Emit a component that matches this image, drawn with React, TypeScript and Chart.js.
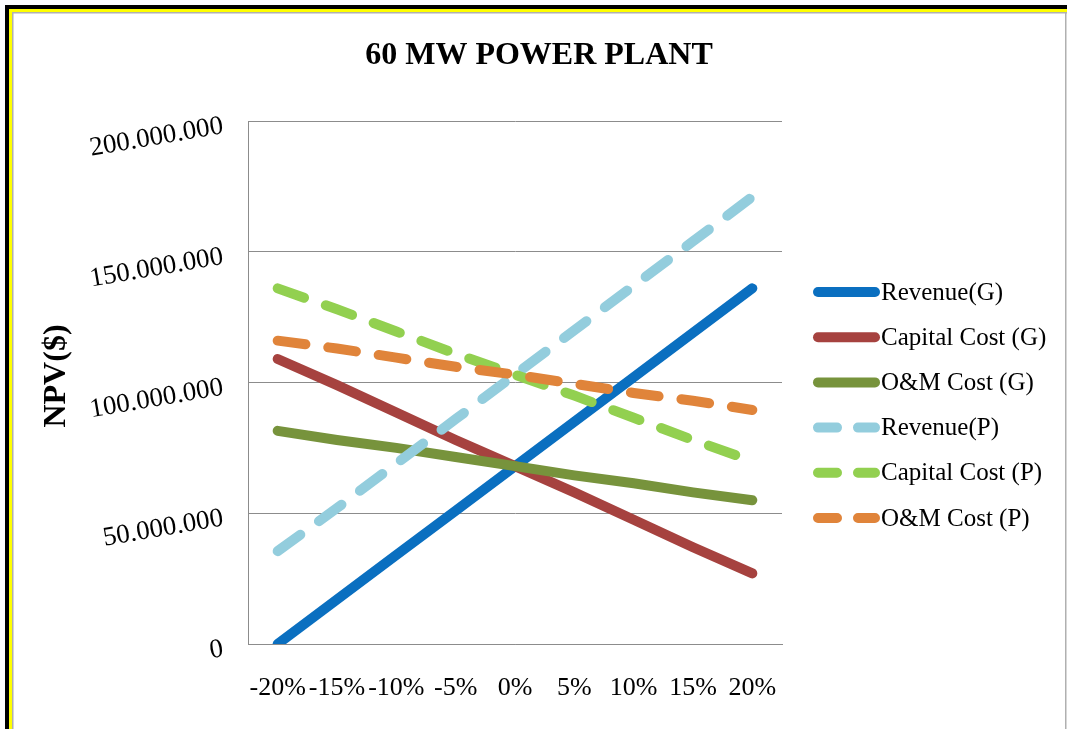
import React, { useEffect, useRef } from "react";
import { Chart, registerables } from "chart.js";

Chart.register(...registerables);

// Sensitivity steps on the x axis
const CATEGORIES = ["-20%", "-15%", "-10%", "-5%", "0%", "5%", "10%", "15%", "20%"];

// NPV ($) for each parameter change, grid-connected (G) and PPA-based (P) cases
const REVENUE_G = [0, 17000000, 34000000, 51000000, 68000000, 85000000, 102000000, 119000000, 136000000];
const CAPITAL_COST_G = [109000000, 99000000, 88500000, 78000000, 68000000, 58000000, 47500000, 37000000, 27000000];
const OM_COST_G = [81500000, 78000000, 75000000, 71500000, 68000000, 64500000, 61500000, 58000000, 55000000];
const REVENUE_P = [35500000, 52000000, 69000000, 86000000, 103000000, 120000000, 137000000, 154000000, 171000000];
const CAPITAL_COST_P = [136000000, 128000000, 119500000, 111000000, 103000000, 95000000, 86500000, 78000000, 70000000];
const OM_COST_P = [116000000, 113000000, 109500000, 106000000, 103000000, 99500000, 96000000, 93000000, 89500000];

// Y axis tick values and their printed labels
const Y_TICK_VALUES = [0, 50000000, 100000000, 150000000, 200000000];
const Y_TICK_LABELS = ["0", "50.000.000", "100.000.000", "150.000.000", "200.000.000"];

const SERIES_NAMES = [
  "Revenue(G)",
  "Capital Cost (G)",
  "O&M Cost (G)",
  "Revenue(P)",
  "Capital Cost (P)",
  "O&M Cost (P)",
];
const SERIES_DATA = [REVENUE_G, CAPITAL_COST_G, OM_COST_G, REVENUE_P, CAPITAL_COST_P, OM_COST_P];
const SERIES_COLORS = ["#0a6fc0", "#a6423f", "#77933c", "#93cddd", "#92d050", "#e0843a"];
const SERIES_DASHED = [false, false, false, true, true, true];

const TITLE = "60 MW POWER PLANT";
const Y_TITLE = "NPV($)";

const SERIF = '"Liberation Serif", "Times New Roman", serif';

// Page frame, chart title, rotated y labels and the legend
const decorPlugin = {
  id: "decor",
  beforeDraw(chart: any) {
    const { ctx, width, height } = chart;
    ctx.save();
    ctx.fillStyle = "#ffffff";
    ctx.fillRect(0, 0, width, height);
    // black outer band
    ctx.fillStyle = "#000000";
    ctx.fillRect(5, 5, width - 5, 4);
    ctx.fillRect(5, 5, 4, height - 5);
    // yellow band
    ctx.fillStyle = "#ffff00";
    ctx.fillRect(9, 9, width - 9, 3);
    ctx.fillRect(9, 9, 3, height - 9);
    // thin grey inner edge
    ctx.fillStyle = "#b0b0b0";
    ctx.fillRect(12, 12, width - 12, 1.5);
    ctx.fillRect(12, 12, 1.5, height - 12);
    ctx.fillRect(width - 2, 12, 1.5, height - 12);
    ctx.restore();
  },
  afterDraw(chart: any) {
    const { ctx } = chart;
    const yScale = chart.scales.y;
    ctx.save();

    // title
    ctx.fillStyle = "#000000";
    ctx.font = `bold 32px ${SERIF}`;
    ctx.textAlign = "center";
    ctx.textBaseline = "middle";
    ctx.fillText(TITLE, 539, 56);

    // y axis title
    ctx.save();
    ctx.translate(57, 376);
    ctx.rotate(-Math.PI / 2);
    ctx.font = `bold 32px ${SERIF}`;
    ctx.fillText(Y_TITLE, 0, 0);
    ctx.restore();

    // slanted y tick labels
    ctx.font = `27px ${SERIF}`;
    ctx.textAlign = "right";
    ctx.textBaseline = "middle";
    Y_TICK_VALUES.forEach((v, i) => {
      const py = yScale.getPixelForValue(v);
      ctx.save();
      ctx.translate(223, py + 5);
      ctx.rotate(-0.17);
      ctx.fillText(Y_TICK_LABELS[i], 0, 0);
      ctx.restore();
    });

    // legend
    const legendTop = 292;
    const legendStep = 45.2;
    ctx.textAlign = "left";
    ctx.font = `25px ${SERIF}`;
    SERIES_NAMES.forEach((name, i) => {
      const y = legendTop + i * legendStep;
      ctx.strokeStyle = SERIES_COLORS[i];
      ctx.lineWidth = 10;
      ctx.lineCap = "round";
      ctx.beginPath();
      if (SERIES_DASHED[i]) {
        ctx.moveTo(818, y);
        ctx.lineTo(837, y);
        ctx.moveTo(858, y);
        ctx.lineTo(875, y);
      } else {
        ctx.moveTo(818, y);
        ctx.lineTo(875, y);
      }
      ctx.stroke();
      ctx.fillStyle = "#000000";
      ctx.fillText(name, 881, y + 1);
    });

    ctx.restore();
  },
};

export default function App() {
  const canvasRef = useRef<HTMLCanvasElement | null>(null);

  useEffect(() => {
    const canvas = canvasRef.current;
    if (!canvas) return;

    const datasets = SERIES_NAMES.map((name, i) => ({
      label: name,
      data: SERIES_DATA[i],
      borderColor: SERIES_COLORS[i],
      backgroundColor: SERIES_COLORS[i],
      borderWidth: 10,
      borderCapStyle: "round" as const,
      borderJoinStyle: "round" as const,
      borderDash: SERIES_DASHED[i] ? [28, 23] : [],
      pointRadius: 0,
      pointHoverRadius: 0,
      tension: 0,
      fill: false,
      // later series are painted over earlier ones
      order: SERIES_NAMES.length - i,
    }));

    const chart = new Chart(canvas, {
      type: "line",
      data: { labels: CATEGORIES, datasets },
      options: {
        animation: false,
        responsive: false,
        events: [],
        layout: { padding: { left: 248, top: 121, right: 285, bottom: 0 } },
        plugins: {
          legend: { display: false },
          title: { display: false },
          tooltip: { enabled: false },
        },
        scales: {
          x: {
            type: "category",
            offset: true,
            grid: { display: false, drawTicks: false },
            border: { display: true, color: "#8c8c8c", width: 1 },
            ticks: {
              autoSkip: false,
              maxRotation: 0,
              minRotation: 0,
              padding: 29,
              color: "#000000",
              font: { family: SERIF, size: 26 },
            },
            afterFit: (s: any) => {
              s.height = 85;
            },
          },
          y: {
            min: 0,
            max: 200000000,
            ticks: { stepSize: 50000000, display: false },
            grid: { color: "#8c8c8c", lineWidth: 1, drawTicks: false },
            border: { display: true, color: "#8c8c8c", width: 1 },
            afterFit: (s: any) => {
              s.width = 0;
            },
          },
        },
      },
      plugins: [decorPlugin],
    });

    return () => chart.destroy();
  }, []);

  return (
    <div style={{ position: "absolute", left: 0, top: 0, width: 1067, height: 729, background: "#fff" }}>
      <canvas ref={canvasRef} width={1067} height={729} style={{ display: "block" }} />
    </div>
  );
}
